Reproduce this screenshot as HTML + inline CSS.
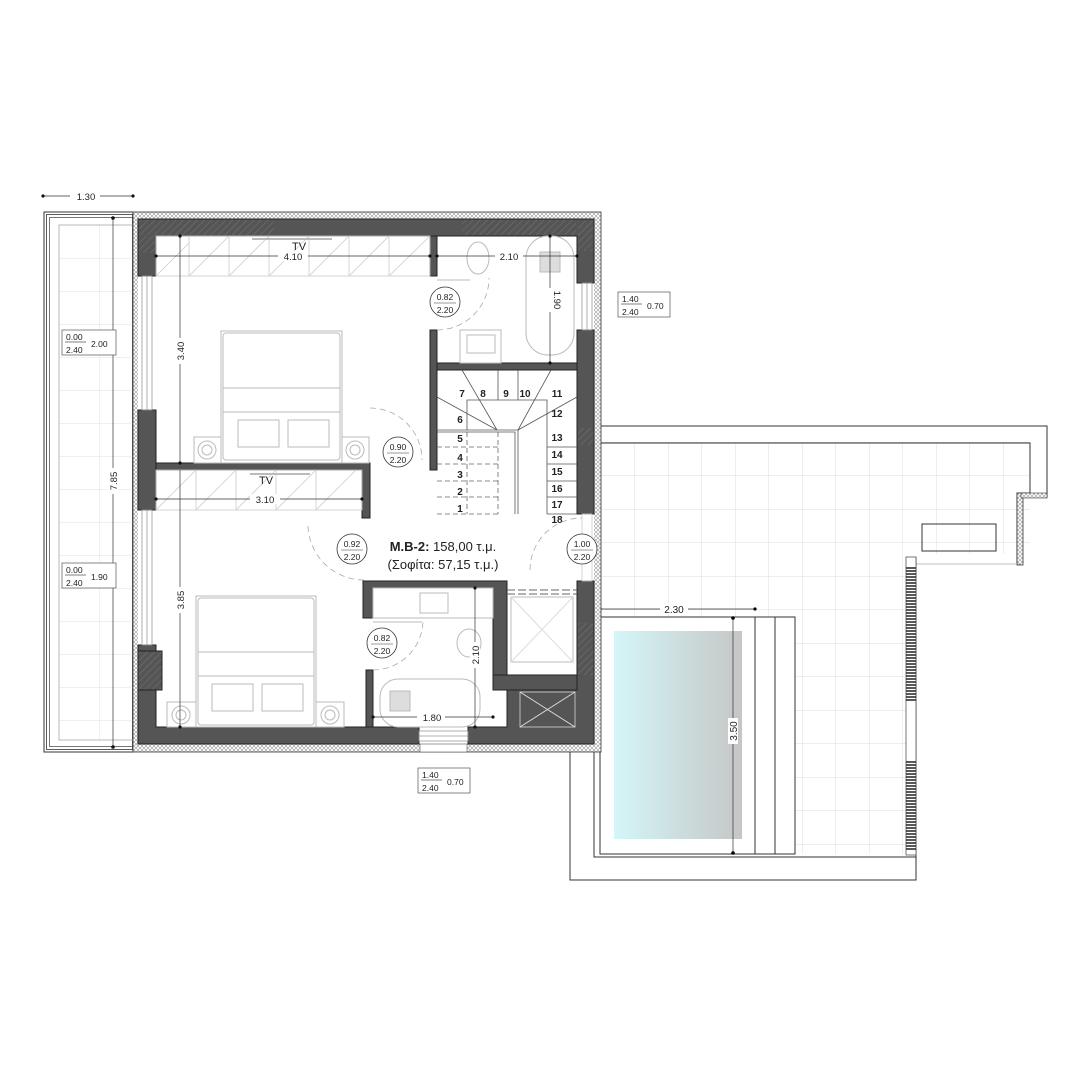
<!DOCTYPE html>
<html><head><meta charset="utf-8"><style>
html,body{margin:0;padding:0;background:#fff}
svg{display:block}
text{font-family:"Liberation Sans",sans-serif;fill:#222}
</style></head><body>
<svg width="1080" height="1080" viewBox="0 0 1080 1080" xmlns="http://www.w3.org/2000/svg">
<defs>
<pattern id="ins" width="4" height="4" patternUnits="userSpaceOnUse"><rect width="4" height="4" fill="#fff"/><path d="M0 0L4 4M4 0L0 4" stroke="#999" stroke-width="0.6"/></pattern>
<pattern id="tile" width="33.5" height="33.5" patternUnits="userSpaceOnUse" x="601" y="442"><path d="M0 0H33.5M0 0V33.5" stroke="#ddd" stroke-width="1" fill="none"/></pattern>
<pattern id="tileb" width="40" height="33" patternUnits="userSpaceOnUse" x="59" y="225"><path d="M0 0H40M0 0V33" stroke="#e2e2e2" stroke-width="1" fill="none"/></pattern>
<pattern id="hat" width="5" height="5" patternUnits="userSpaceOnUse" patternTransform="rotate(45)"><rect width="5" height="5" fill="#555"/><path d="M0 0V5" stroke="#777" stroke-width="1"/></pattern>
<linearGradient id="pool" x1="0" x2="1"><stop offset="0" stop-color="#d4f6f8"/><stop offset="1" stop-color="#c6c6c6"/></linearGradient>
</defs>

<!-- balcony left -->
<rect x="44" y="212" width="89" height="540" fill="none" stroke="#333" stroke-width="1"/>
<rect x="46.5" y="214.5" width="86" height="535" fill="none" stroke="#333" stroke-width="0.8"/>
<rect x="49.5" y="217.5" width="83" height="529" fill="none" stroke="#555" stroke-width="0.8"/>
<rect x="59" y="225" width="74" height="515" fill="url(#tileb)" stroke="#aaa" stroke-width="0.8"/>

<!-- terrace -->
<path d="M600 425H1047V498H1020V565H916V880H570V752H600Z" fill="#fff" stroke="none"/>
<rect x="601" y="442" width="429" height="112" fill="url(#tile)"/>
<rect x="601" y="554" width="305" height="300" fill="url(#tile)"/>
<path d="M600 426H1047V497H1021V564" fill="none" stroke="#333" stroke-width="1"/>
<path d="M600 443H1030V493H1017V565" fill="none" stroke="#333" stroke-width="1"/>
<rect x="1017" y="493" width="6" height="72" fill="url(#ins)" stroke="#333" stroke-width="0.8"/>
<rect x="1021" y="493" width="26" height="5" fill="url(#ins)" stroke="#333" stroke-width="0.6"/>
<line x1="916" y1="564" x2="1021" y2="564" stroke="#aaa" stroke-width="0.8"/>
<rect x="922" y="524" width="74" height="27" fill="none" stroke="#333" stroke-width="1"/>
<path d="M570 752V880H916V557" fill="none" stroke="#333" stroke-width="1"/>
<path d="M594 752V857H916" fill="none" stroke="#333" stroke-width="1"/>
<!-- railing -->
<rect x="906" y="557" width="10" height="298" fill="#fff" stroke="#555" stroke-width="0.8"/>
<g stroke="#222" stroke-width="1.6">
<path d="M906 568H916M906 571H916M906 574H916M906 577H916M906 580H916M906 583H916M906 586H916M906 589H916M906 592H916M906 595H916M906 598H916M906 601H916M906 604H916M906 607H916M906 610H916M906 613H916M906 616H916M906 619H916M906 622H916M906 625H916M906 628H916M906 631H916M906 634H916M906 637H916M906 640H916M906 643H916M906 646H916M906 649H916M906 652H916M906 655H916M906 658H916M906 661H916M906 664H916M906 667H916M906 670H916M906 673H916M906 676H916M906 679H916M906 682H916M906 685H916M906 688H916M906 691H916M906 694H916M906 697H916M906 700H916"/>
<path d="M906 762H916M906 765H916M906 768H916M906 771H916M906 774H916M906 777H916M906 780H916M906 783H916M906 786H916M906 789H916M906 792H916M906 795H916M906 798H916M906 801H916M906 804H916M906 807H916M906 810H916M906 813H916M906 816H916M906 819H916M906 822H916M906 825H916M906 828H916M906 831H916M906 834H916M906 837H916M906 840H916M906 843H916M906 846H916M906 849H916"/>
</g>
<!-- pool -->
<rect x="600" y="617" width="195" height="237" fill="#fff" stroke="#333" stroke-width="1"/>
<line x1="755" y1="617" x2="755" y2="854" stroke="#333"/>
<line x1="775" y1="617" x2="775" y2="854" stroke="#333"/>
<rect x="614" y="631" width="128" height="208" fill="url(#pool)"/>
<line x1="600" y1="609" x2="755" y2="609" stroke="#333" stroke-width="0.7"/>
<circle cx="600" cy="609" r="1.6"/><circle cx="755" cy="609" r="1.6"/>
<rect x="660" y="604" width="28" height="10" fill="#fff"/>
<text x="674" y="613" font-size="10" text-anchor="middle">2.30</text>
<line x1="733" y1="617" x2="733" y2="854" stroke="#333" stroke-width="0.7"/>
<circle cx="733" cy="618" r="1.8"/><circle cx="733" cy="853" r="1.8"/>
<rect x="728" y="718" width="10" height="26" fill="#fff"/>
<text transform="translate(737,731) rotate(-90)" font-size="10" text-anchor="middle">3.50</text>

<!-- insulation outline main -->
<rect x="133" y="212" width="468" height="540" fill="url(#ins)" stroke="#333" stroke-width="0.8"/>
<rect x="138" y="219" width="456" height="525" fill="#fff"/>
<!-- interior white -->
<!-- dark walls -->
<g fill="#555" stroke="#222" stroke-width="1">
<path d="M138 219H594V283H577V236H156V276H138Z"/>
<rect x="138" y="410" width="18" height="100"/>
<path d="M138 645H156V727H419V744H138Z"/>
<path d="M468 727H507V690H577V581H594V744H468Z"/>
<rect x="577" y="330" width="17" height="184"/>
<rect x="430" y="236" width="7" height="40"/>
<rect x="430" y="330" width="7" height="140"/>
<rect x="437" y="363" width="140" height="7"/>
<path d="M156 463H370V518H362V470H156Z"/>
<path d="M363 581H507V690H493V588H373V618H363Z"/>
<rect x="493" y="675" width="84" height="15"/>
<rect x="366" y="670" width="7" height="57"/>
</g>
<rect x="138" y="651" width="24" height="39" fill="url(#hat)" stroke="#222"/>
<rect x="139" y="220" width="135" height="15" fill="url(#hat)"/>
<rect x="139" y="236" width="16" height="17" fill="url(#hat)"/>
<rect x="462" y="220" width="114" height="15" fill="url(#hat)"/>
<rect x="578" y="221" width="15" height="30" fill="url(#hat)"/>
<rect x="578" y="428" width="15" height="17" fill="url(#hat)"/>
<rect x="578" y="623" width="15" height="52" fill="url(#hat)"/>
<!-- windows left -->
<g stroke="#999" fill="none" stroke-width="0.8">
<rect x="142" y="276" width="10" height="134"/><line x1="147" y1="276" x2="147" y2="410"/>
<rect x="142" y="510" width="10" height="135"/><line x1="147" y1="510" x2="147" y2="645"/>
<rect x="582" y="283" width="10" height="47"/><line x1="587" y1="283" x2="587" y2="330"/>
<rect x="419" y="731" width="49" height="10"/><line x1="419" y1="736" x2="468" y2="736"/>
<rect x="582" y="514" width="10" height="67" stroke="#ccc"/>
</g>
<rect x="420" y="744" width="47" height="8" fill="#fff" stroke="#555" stroke-width="0.6"/>

<!-- wardrobes -->
<g stroke="#ccc" stroke-width="0.8" fill="none">
<rect x="156" y="236" width="274" height="40"/>
<path d="M189 236V276M229 236V276M269 236V276M309 236V276M349 236V276M389 236V276"/>
<path d="M156 276L189 243M189 276L229 236M229 276L269 236M269 276L309 236M309 276L349 236M349 276L389 236M389 276L430 236"/>
<rect x="156" y="470" width="206" height="40"/>
<path d="M196 470V510M236 470V510M276 470V510M316 470V510"/>
<path d="M156 510L196 470M196 510L236 470M236 510L276 470M276 510L316 470M316 510L356 470"/>
</g>
<line x1="252" y1="239" x2="332" y2="239" stroke="#bbb" stroke-width="2"/>
<line x1="250" y1="474" x2="310" y2="474" stroke="#bbb" stroke-width="2"/>
<text x="299" y="250" font-size="11" text-anchor="middle">TV</text>
<text x="266" y="484" font-size="11" text-anchor="middle">TV</text>

<!-- beds -->
<g stroke="#bbb" fill="none" stroke-width="1">
<rect x="221" y="331" width="121" height="132"/><rect x="223" y="333" width="117" height="127" rx="3"/>
<line x1="223" y1="388" x2="340" y2="388"/><line x1="223" y1="412" x2="340" y2="412"/>
<rect x="238" y="420" width="41" height="27"/><rect x="288" y="420" width="41" height="27"/>
<rect x="194" y="437" width="27" height="26"/><circle cx="207" cy="450" r="9"/><circle cx="207" cy="450" r="5"/>
<rect x="342" y="437" width="27" height="26"/><circle cx="355" cy="450" r="9"/><circle cx="355" cy="450" r="5"/>
<rect x="196" y="596" width="120" height="131"/><rect x="198" y="598" width="116" height="127" rx="3"/>
<line x1="198" y1="652" x2="314" y2="652"/><line x1="198" y1="676" x2="314" y2="676"/>
<rect x="212" y="684" width="41" height="27"/><rect x="262" y="684" width="41" height="27"/>
<rect x="167" y="702" width="29" height="25"/><circle cx="181" cy="715" r="9"/><circle cx="181" cy="715" r="5"/>
<rect x="316" y="702" width="28" height="25"/><circle cx="330" cy="715" r="9"/><circle cx="330" cy="715" r="5"/>
</g>

<!-- bathroom 1 fixtures -->
<g stroke="#bbb" fill="none" stroke-width="1">
<rect x="526" y="236" width="48" height="119" rx="22"/>
<rect x="540" y="252" width="20" height="20" fill="#ddd"/>
<ellipse cx="478" cy="258" rx="11" ry="16"/>
<rect x="460" y="330" width="41" height="33"/><rect x="467" y="335" width="28" height="18"/>
<rect x="373" y="588" width="120" height="30"/><rect x="420" y="593" width="28" height="20"/>
<ellipse cx="469" cy="643" rx="12" ry="14"/>
<rect x="380" y="679" width="100" height="48" rx="18"/>
<rect x="390" y="691" width="20" height="20" fill="#ddd"/>
<rect x="511" y="597" width="62" height="65"/><path d="M511 597L573 662M573 597L511 662" stroke="#ddd"/>
<rect x="520" y="692" width="55" height="35"/><path d="M520 692L575 727M575 692L520 727" stroke="#ddd"/>
</g>
<path d="M507 590H577M507 594H577" stroke="#666" stroke-width="1" stroke-dasharray="8 3"/>
<line x1="437" y1="280" x2="470" y2="280" stroke="#bbb"/>
<line x1="373" y1="622" x2="422" y2="622" stroke="#bbb"/>

<!-- stairs -->
<g stroke="#555" stroke-width="0.8" fill="none">
<path d="M437 430H518V514"/><path d="M437 432H515V514"/>
<path d="M467 430V400H547V514"/>
<path d="M498 370V400M518 370V400"/>
<path d="M497 430L462 370M497 430L437 397M518 430L551 370M518 430L577 397"/>
<path d="M547 447H577M547 464H577M547 481H577M547 497H577M547 514H577"/>
</g>
<g stroke="#666" stroke-width="0.8" fill="none" stroke-dasharray="5 3">
<path d="M437 447H498M437 464H498M437 481H498M437 497H498M437 514H498M467 432V514M498 432V514"/>
</g>
<g font-size="10" font-weight="bold" text-anchor="middle">
<text x="462" y="397">7</text><text x="483" y="397">8</text><text x="506" y="397">9</text><text x="525" y="397">10</text>
<text x="557" y="397">11</text><text x="460" y="423">6</text><text x="557" y="417">12</text>
<text x="460" y="442">5</text><text x="557" y="441">13</text>
<text x="460" y="461">4</text><text x="557" y="458">14</text>
<text x="460" y="478">3</text><text x="557" y="475">15</text>
<text x="460" y="495">2</text><text x="557" y="492">16</text>
<text x="460" y="512">1</text><text x="557" y="508">17</text><text x="557" y="523">18</text>
</g>

<!-- door arcs -->
<g stroke="#aaa" fill="none" stroke-width="0.8" stroke-dasharray="6 4">
<path d="M437 330A52 52 0 0 0 489 278"/>
<path d="M370 408A52 52 0 0 1 422 460"/>
<path d="M308 526A56 56 0 0 0 364 580"/>
<path d="M530 570A52 52 0 0 1 582 518"/>
<path d="M373 670A50 50 0 0 0 423 620"/>
</g>
<g fill="#fff" stroke="#333" stroke-width="0.8">
<circle cx="445" cy="302" r="15"/><circle cx="398" cy="452" r="15"/><circle cx="352" cy="549" r="15"/><circle cx="582" cy="549" r="15"/><circle cx="382" cy="643" r="15"/>
</g>
<g font-size="8.5" text-anchor="middle" stroke="#333" stroke-width="0.6">
<text x="445" y="300" stroke="none">0.82</text><line x1="434" y1="303" x2="456" y2="303"/><text x="445" y="313" stroke="none">2.20</text>
<text x="398" y="450" stroke="none">0.90</text><line x1="387" y1="453" x2="409" y2="453"/><text x="398" y="463" stroke="none">2.20</text>
<text x="352" y="547" stroke="none">0.92</text><line x1="341" y1="550" x2="363" y2="550"/><text x="352" y="560" stroke="none">2.20</text>
<text x="582" y="547" stroke="none">1.00</text><line x1="571" y1="550" x2="593" y2="550"/><text x="582" y="560" stroke="none">2.20</text>
<text x="382" y="641" stroke="none">0.82</text><line x1="371" y1="644" x2="393" y2="644"/><text x="382" y="654" stroke="none">2.20</text>
</g>

<!-- title -->
<text x="443" y="551" font-size="13" text-anchor="middle"><tspan font-weight="bold">M.B-2:</tspan> 158,00 τ.μ.</text>
<text x="443" y="569" font-size="13" text-anchor="middle">(Σοφίτα: 57,15 τ.μ.)</text>

<!-- dimensions -->
<g stroke="#333" stroke-width="0.7" fill="none">
<line x1="156" y1="256" x2="430" y2="256"/><line x1="437" y1="256" x2="577" y2="256"/>
<line x1="550" y1="236" x2="550" y2="363"/><line x1="180" y1="236" x2="180" y2="463"/>
<line x1="156" y1="499" x2="362" y2="499"/><line x1="180" y1="470" x2="180" y2="727"/>
<line x1="475" y1="588" x2="475" y2="727"/><line x1="373" y1="717" x2="493" y2="717"/>
<line x1="113" y1="218" x2="113" y2="747"/><line x1="43" y1="196" x2="133" y2="196"/>
</g>
<g fill="#111">
<circle cx="156" cy="256" r="1.6"/><circle cx="430" cy="256" r="1.6"/><circle cx="437" cy="256" r="1.6"/><circle cx="577" cy="256" r="1.6"/>
<circle cx="550" cy="236" r="1.6"/><circle cx="550" cy="363" r="1.6"/><circle cx="180" cy="236" r="1.6"/><circle cx="180" cy="463" r="1.6"/>
<circle cx="156" cy="499" r="1.6"/><circle cx="362" cy="499" r="1.6"/><circle cx="180" cy="727" r="1.6"/>
<circle cx="475" cy="588" r="1.6"/><circle cx="475" cy="727" r="1.6"/><circle cx="373" cy="717" r="1.6"/><circle cx="493" cy="717" r="1.6"/>
<circle cx="113" cy="218" r="1.8"/><circle cx="113" cy="747" r="1.8"/><circle cx="43" cy="196" r="1.6"/><circle cx="133" cy="196" r="1.6"/>
</g>
<g font-size="9.5" text-anchor="middle">
<rect x="278" y="251" width="30" height="10" fill="#fff"/><text x="293" y="260">4.10</text>
<rect x="495" y="251" width="28" height="10" fill="#fff"/><text x="509" y="260">2.10</text>
<rect x="250" y="494" width="30" height="10" fill="#fff"/><text x="265" y="503">3.10</text>
<rect x="417" y="712" width="28" height="10" fill="#fff"/><text x="432" y="721">1.80</text>
<rect x="70" y="191" width="30" height="10" fill="#fff"/><text x="86" y="200">1.30</text>
<rect x="545" y="288" width="10" height="24" fill="#fff"/><text transform="translate(554,300) rotate(90)">1.90</text>
<rect x="175" y="338" width="10" height="26" fill="#fff"/><text transform="translate(184,351) rotate(-90)">3.40</text>
<rect x="175" y="587" width="10" height="26" fill="#fff"/><text transform="translate(184,600) rotate(-90)">3.85</text>
<rect x="470" y="642" width="10" height="26" fill="#fff"/><text transform="translate(479,655) rotate(-90)">2.10</text>
<rect x="108" y="468" width="10" height="26" fill="#fff"/><text transform="translate(117,481) rotate(-90)">7.85</text>
</g>

<!-- window tags -->
<g font-size="8.5" stroke="#555" stroke-width="0.7">
<rect x="62" y="330" width="54" height="25" fill="#fff"/><line x1="65" y1="342" x2="86" y2="342"/>
<text x="66" y="340" stroke="none">0.00</text><text x="66" y="353" stroke="none">2.40</text><text x="91" y="347" stroke="none">2.00</text>
<rect x="62" y="563" width="54" height="25" fill="#fff"/><line x1="65" y1="575" x2="86" y2="575"/>
<text x="66" y="573" stroke="none">0.00</text><text x="66" y="586" stroke="none">2.40</text><text x="91" y="580" stroke="none">1.90</text>
<rect x="618" y="292" width="52" height="25" fill="#fff"/><line x1="621" y1="304" x2="642" y2="304"/>
<text x="622" y="302" stroke="none">1.40</text><text x="622" y="315" stroke="none">2.40</text><text x="647" y="309" stroke="none">0.70</text>
<rect x="418" y="768" width="52" height="25" fill="#fff"/><line x1="421" y1="780" x2="442" y2="780"/>
<text x="422" y="778" stroke="none">1.40</text><text x="422" y="791" stroke="none">2.40</text><text x="447" y="785" stroke="none">0.70</text>
</g>
</svg>
</body></html>
